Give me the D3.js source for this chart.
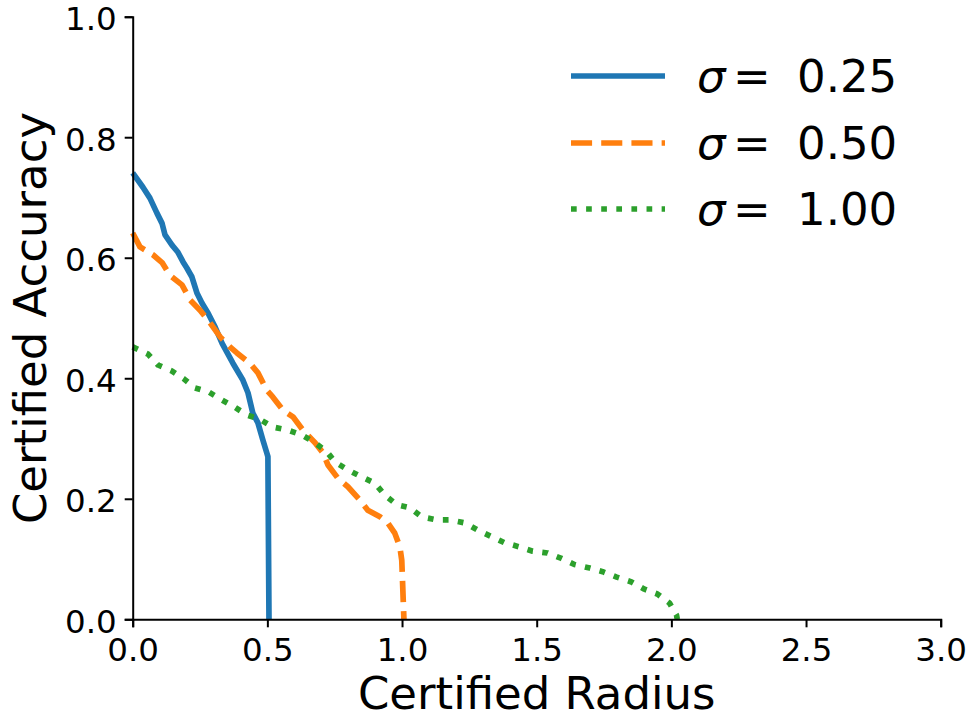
<!DOCTYPE html>
<html>
<head>
<meta charset="utf-8">
<script src="https://cdn.jsdelivr.net/npm/d3@7"></script>
<style>
  html, body { margin: 0; padding: 0; background: #fff; }
  svg text { font-family: "DejaVu Sans", sans-serif; fill: #000; }
</style>
</head>
<body>
<div id="chart"></div>
<script>
// Certified accuracy vs certified radius, three noise levels
const sigmaLabels = ['0.25', '0.50', '1.00'];
const seriesColors = ['#1f77b4', '#ff7f0e', '#2ca02c'];

const radius025 = [0.0, 0.038, 0.064, 0.09, 0.109, 0.12, 0.146, 0.168, 0.187, 0.201, 0.22, 0.239, 0.257, 0.28, 0.306, 0.332, 0.372, 0.409, 0.428, 0.446, 0.465, 0.483, 0.498, 0.502, 0.506];
const acc025    = [0.741, 0.717, 0.699, 0.674, 0.657, 0.638, 0.621, 0.609, 0.593, 0.583, 0.568, 0.541, 0.525, 0.508, 0.485, 0.458, 0.425, 0.397, 0.376, 0.342, 0.326, 0.298, 0.276, 0.27, 0.0];

const radius050 = [0.0, 0.027, 0.075, 0.109, 0.138, 0.183, 0.213, 0.25, 0.287, 0.324, 0.361, 0.387, 0.435, 0.465, 0.498, 0.52, 0.558, 0.595, 0.632, 0.677, 0.707, 0.725, 0.762, 0.799, 0.843, 0.873, 0.918, 0.947, 0.973, 0.992, 0.999, 1.007];
const acc050    = [0.641, 0.618, 0.605, 0.592, 0.571, 0.555, 0.53, 0.513, 0.492, 0.469, 0.452, 0.442, 0.425, 0.409, 0.38, 0.369, 0.347, 0.336, 0.314, 0.293, 0.276, 0.256, 0.234, 0.22, 0.198, 0.181, 0.17, 0.16, 0.143, 0.12, 0.098, 0.0];

const radius100 = [0.0, 0.057, 0.094, 0.146, 0.19, 0.231, 0.283, 0.331, 0.379, 0.424, 0.472, 0.52, 0.576, 0.628, 0.677, 0.721, 0.751, 0.799, 0.851, 0.899, 0.936, 0.981, 1.029, 1.073, 1.129, 1.177, 1.233, 1.281, 1.333, 1.381, 1.437, 1.485, 1.54, 1.592, 1.64, 1.697, 1.745, 1.797, 1.852, 1.9, 1.948, 1.993, 2.019, 2.022];
const acc100    = [0.452, 0.44, 0.422, 0.412, 0.399, 0.384, 0.377, 0.364, 0.352, 0.339, 0.332, 0.319, 0.314, 0.306, 0.293, 0.278, 0.261, 0.248, 0.236, 0.226, 0.206, 0.19, 0.185, 0.17, 0.165, 0.165, 0.16, 0.148, 0.137, 0.127, 0.12, 0.113, 0.11, 0.101, 0.091, 0.085, 0.079, 0.07, 0.062, 0.05, 0.042, 0.027, 0.007, 0.0];

const xTicks = [0, 0.5, 1.0, 1.5, 2.0, 2.5, 3.0];
const yTicks = [0, 0.2, 0.4, 0.6, 0.8, 1.0];

const W = 969, H = 715;
const plotL = 132.7, plotR = 940.7, plotT = 16.7, plotB = 619.3;
const lw = 5.7;
const dashes = [null, `${3.7 * lw},${1.6 * lw}`, `${lw},${1.65 * lw}`];

const svg = d3.select('#chart').append('svg')
    .attr('width', W).attr('height', H)
    .attr('viewBox', `0 0 ${W} ${H}`);

const x = d3.scaleLinear().domain([0, 3]).range([plotL, plotR]);
const y = d3.scaleLinear().domain([0, 1]).range([plotB, plotT]);

const series = [
    radius025.map((r, i) => [r, acc025[i]]),
    radius050.map((r, i) => [r, acc050[i]]),
    radius100.map((r, i) => [r, acc100[i]])
];

const line = d3.line().x(d => x(d[0])).y(d => y(d[1]));

// curves
svg.append('g')
    .selectAll('path')
    .data(series)
    .join('path')
    .attr('d', line)
    .attr('fill', 'none')
    .attr('stroke', (d, i) => seriesColors[i])
    .attr('stroke-width', lw)
    .attr('stroke-linejoin', 'round')
    .attr('stroke-dasharray', (d, i) => dashes[i]);

// axes
const xAxis = svg.append('g')
    .attr('transform', `translate(0,${plotB})`)
    .call(d3.axisBottom(x).tickValues(xTicks).tickFormat(d3.format('.1f')).tickSizeOuter(0).tickSize(8).tickPadding(8));
const yAxis = svg.append('g')
    .attr('transform', `translate(${plotL},0)`)
    .call(d3.axisLeft(y).tickValues(yTicks).tickFormat(d3.format('.1f')).tickSizeOuter(0).tickSize(8).tickPadding(8));

[xAxis, yAxis].forEach(g => {
    g.select('.domain').attr('stroke', '#000').attr('stroke-width', 2);
    g.selectAll('.tick line').attr('stroke', '#000').attr('stroke-width', 2);
    g.selectAll('.tick text')
        .attr('font-size', '32.5px')
        .attr('font-family', '"DejaVu Sans", sans-serif')
        .attr('fill', '#000');
});
xAxis.selectAll('.tick text').attr('dy', '0.79em');
yAxis.selectAll('.tick text').attr('dy', '0.4em');

// axis titles
svg.append('text')
    .attr('x', (plotL + plotR) / 2)
    .attr('y', 709)
    .attr('text-anchor', 'middle')
    .attr('font-size', '45px')
    .text('Certified Radius');

svg.append('text')
    .attr('transform', `translate(46,${(plotT + plotB) / 2}) rotate(-90)`)
    .attr('text-anchor', 'middle')
    .attr('font-size', '45px')
    .text('Certified Accuracy');

// legend
const legendRows = [76, 143, 209];
const lg = svg.append('g');
sigmaLabels.forEach((lab, i) => {
    const ly = legendRows[i];
    lg.append('line')
        .attr('x1', 571).attr('x2', 665)
        .attr('y1', ly).attr('y2', ly)
        .attr('stroke', seriesColors[i])
        .attr('stroke-width', lw)
        .attr('stroke-dasharray', dashes[i]);
    const t = lg.append('text')
        .attr('y', ly + 16)
        .attr('font-size', '45px');
    t.append('tspan').attr('x', 697).attr('font-style', 'italic').text('σ');
    t.append('tspan').attr('x', 733).text('=');
    t.append('tspan').attr('x', 797).text(lab);
});
</script>
</body>
</html>
